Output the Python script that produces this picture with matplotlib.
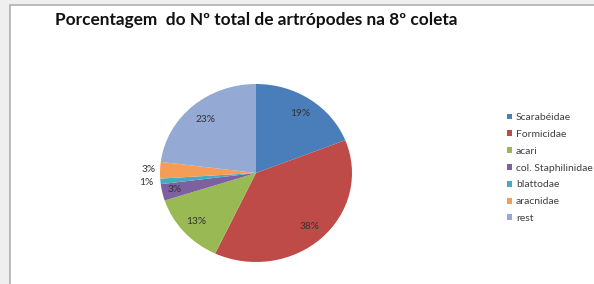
import numpy as np
import matplotlib
matplotlib.use("Agg")
from matplotlib import pyplot as plt
from matplotlib.patches import Rectangle

categories = ["Scarabéidae", "Formicidae", "acari", "col. Staphilinidae",
              "blattodae", "aracnidae", "rest"]
percents = [19, 38, 13, 3, 1, 3, 23]
colors = ["#4A7EBB", "#BE4B48", "#98B954", "#7D60A0", "#46AAC5", "#F59D56", "#94A9D4"]
title = "Porcentagem  do Nº total de artrópodes na 8º coleta"

plt.rcParams["font.family"] = ["Lato", "DejaVu Sans"]

fig = plt.figure(figsize=(5.94, 2.84), dpi=100)
fig.patch.set_facecolor("#efefef")
W, H = 594, 284

# white chart area with a thin grey frame on the left and top
bg = fig.add_axes([0, 0, 1, 1], zorder=0)
bg.set_xlim(0, W)
bg.set_ylim(H, 0)
bg.axis("off")
bg.add_patch(Rectangle((10, 5), W + 20, H + 20, facecolor="white",
                       edgecolor="#b0b0b0", linewidth=1.2))

fig.text(55 / W, 1 - 20 / H, title, fontsize=12.4, fontweight="bold",
         color="#111111", va="center", ha="left")

# pie (slightly stretched, like the original)
cx, cy, rx, ry = 256, 173, 96, 89
ax = fig.add_axes([(cx - rx) / W, 1 - (cy + ry) / H, 2 * rx / W, 2 * ry / H], zorder=2)
wedges, _ = ax.pie(percents, colors=colors, startangle=90, counterclock=False,
                   wedgeprops=dict(linewidth=0))
ax.set_aspect("auto")
ax.set_xlim(-1, 1)
ax.set_ylim(-1, 1)
ax.axis("off")

label_r = [0.81, 0.82, 0.83, 0.87, 1.15, 1.12, 0.80]
for w, p, r in zip(wedges, percents, label_r):
    mid = np.deg2rad((w.theta1 + w.theta2) / 2)
    ax.text(r * np.cos(mid), r * np.sin(mid), f"{p}%", fontsize=7.3,
            color="#333333", ha="center", va="center", clip_on=False)

leg = fig.legend(wedges, categories, loc="upper left",
                 bbox_to_anchor=(503 / W, 1 - 109 / H), frameon=False,
                 fontsize=7.5, handlelength=0.5, handleheight=0.5,
                 handletextpad=0.35, labelspacing=0.75, borderaxespad=0)
leg.set_zorder(3)
for t in leg.get_texts():
    t.set_color("#404040")

fig.savefig("out.png", dpi=100, facecolor=fig.get_facecolor())
